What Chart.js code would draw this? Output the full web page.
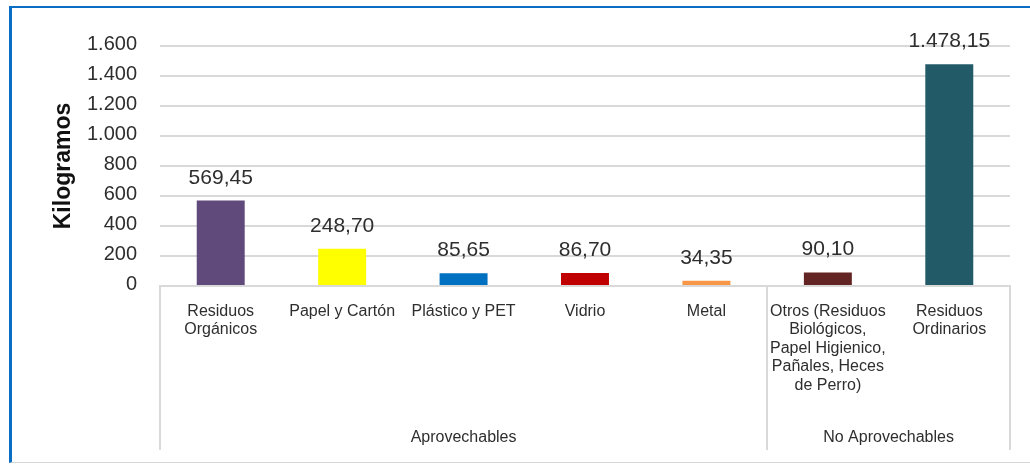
<!DOCTYPE html>
<html lang="es">
<head>
<meta charset="utf-8">
<title>Residuos por tipo</title>
<script src="https://cdn.jsdelivr.net/npm/chart.js@4/dist/chart.umd.min.js"></script>
<style>
  html, body { margin: 0; padding: 0; background: #fff; }
  body { width: 1030px; height: 464px; position: relative; overflow: hidden; }
  #frame {
    position: absolute; left: 9px; top: 6px; width: 1030px; height: 457px;
    border-left: 3px solid #0a6fc4; border-top: 2px solid #0a6fc4;
    border-bottom: 1px solid #d6d6d6; box-sizing: border-box;
  }
  #chart { position: absolute; left: 0; top: 0; }
</style>
</head>
<body>
<div id="frame"></div>
<canvas id="chart" width="1030" height="464"></canvas>
<script>
  // categories (multi-line labels) and their values in kg
  const categories = [
    ['Residuos', 'Orgánicos'],
    'Papel y Cartón',
    'Plástico y PET',
    'Vidrio',
    'Metal',
    ['Otros (Residuos', 'Biológicos,', 'Papel Higienico,', 'Pañales, Heces', 'de Perro)'],
    ['Residuos', 'Ordinarios']
  ];
  const kilos = [569.45, 248.70, 85.65, 86.70, 34.35, 90.10, 1478.15];
  const barColors = ['#604a7b', '#ffff00', '#0070c0', '#c00000', '#f79646', '#632523', '#225a68'];

  // second level of the category axis
  const groupNames = ['Aprovechables', 'No Aprovechables'];
  const groupSizes = [5, 2];

  const yTicks = [0, 200, 400, 600, 800, 1000, 1200, 1400, 1600];

  const FONT = "'Liberation Sans', Arial, sans-serif";
  const TEXT = '#2e2e2e';
  const GRID = '#d9d9d9';

  // 1600 -> "1.600", 569.45 -> "569,45"
  function fmt(v, dec) {
    const parts = v.toFixed(dec).split('.');
    parts[0] = parts[0].replace(/\B(?=(\d{3})+(?!\d))/g, '.');
    return parts.join(',');
  }

  // value labels above each bar
  const valueLabels = {
    id: 'valueLabels',
    afterDatasetsDraw(chart) {
      const ctx = chart.ctx;
      const meta = chart.getDatasetMeta(0);
      ctx.save();
      ctx.font = '21px ' + FONT;
      ctx.fillStyle = TEXT;
      ctx.textAlign = 'center';
      ctx.textBaseline = 'alphabetic';
      meta.data.forEach((bar, i) => {
        ctx.fillText(fmt(kilos[i], 2), bar.x, bar.y - 17);
      });
      ctx.restore();
    }
  };

  // group separators and group names under the category labels
  const groupAxis = {
    id: 'groupAxis',
    afterDraw(chart) {
      const ctx = chart.ctx;
      const x = chart.scales.x;
      const area = chart.chartArea;
      const half = (x.getPixelForValue(1) - x.getPixelForValue(0)) / 2;
      const lineBottom = 450;

      ctx.save();
      ctx.strokeStyle = GRID;
      ctx.lineWidth = 2;
      ctx.font = '16px ' + FONT;
      ctx.fillStyle = TEXT;
      ctx.textAlign = 'center';
      ctx.textBaseline = 'middle';

      let start = 0;
      const edges = [area.left];
      groupSizes.forEach((n, g) => {
        const left = x.getPixelForValue(start) - half;
        const right = x.getPixelForValue(start + n - 1) + half;
        edges.push(right);
        ctx.fillText(groupNames[g], (left + right) / 2, 438);
        start += n;
      });
      edges.forEach(px => {
        ctx.beginPath();
        ctx.moveTo(Math.round(px), area.bottom);
        ctx.lineTo(Math.round(px), lineBottom);
        ctx.stroke();
      });
      ctx.restore();
    }
  };

  new Chart(document.getElementById('chart'), {
    type: 'bar',
    data: {
      labels: categories,
      datasets: [{
        data: kilos,
        backgroundColor: barColors,
        borderWidth: 0,
        categoryPercentage: 1,
        barPercentage: 0.395
      }]
    },
    options: {
      responsive: false,
      animation: false,
      devicePixelRatio: 1,
      layout: { padding: { top: 46, right: 20, bottom: 0, left: 0 } },
      plugins: {
        legend: { display: false },
        tooltip: { enabled: false }
      },
      scales: {
        x: {
          grid: { display: false, drawTicks: false },
          border: { display: true, color: GRID, width: 2 },
          ticks: {
            color: TEXT,
            font: { family: FONT, size: 16, lineHeight: 1.16 },
            padding: 16,
            maxRotation: 0,
            autoSkip: false
          },
          afterFit(scale) { scale.height = 178; }
        },
        y: {
          min: 0,
          max: 1600,
          afterBuildTicks(scale) { scale.ticks = yTicks.map(v => ({ value: v })); },
          grid: { color: GRID, lineWidth: 2, drawTicks: false },
          border: { display: false },
          ticks: {
            color: TEXT,
            font: { family: FONT, size: 20 },
            padding: 23,
            labelOffset: -2,
            autoSkip: false,
            callback: v => fmt(v, 0)
          },
          title: {
            display: true,
            text: 'Kilogramos',
            color: '#111111',
            font: { family: FONT, size: 23, weight: 'bold' },
            padding: { top: 50, bottom: 0 }
          },
          afterFit(scale) { scale.width = 160; }
        }
      }
    },
    plugins: [valueLabels, groupAxis]
  });
</script>
</body>
</html>
